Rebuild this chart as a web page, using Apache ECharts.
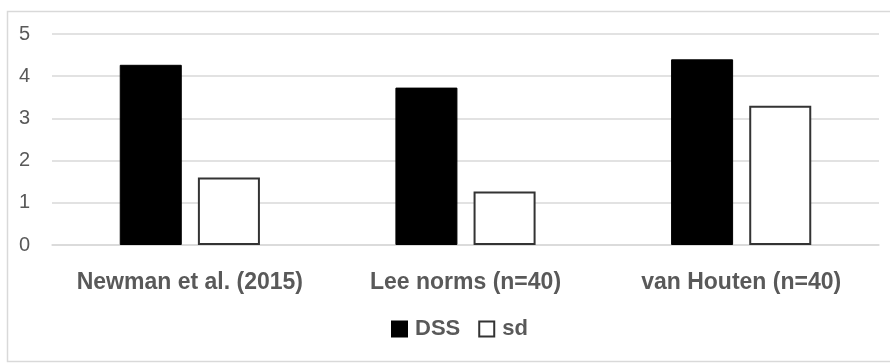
<!DOCTYPE html>
<html>
<head>
<meta charset="utf-8">
<script src="https://cdn.jsdelivr.net/npm/echarts@6/dist/echarts.min.js"></script>
<style>
  html, body { margin: 0; padding: 0; background: #fff; }
  #chart { width: 890px; height: 364px; }
</style>
</head>
<body>
<div id="chart"></div>
<script>
// Study sources along the x axis
const categories = ['Newman et al. (2015)', 'Lee norms (n=40)', 'van Houten (n=40)'];
// Mean DSS score per source
const dssValues = [4.27, 3.73, 4.40];
// Standard deviation per source
const sdValues = [1.60, 1.27, 3.30];
// Value axis ticks
const yTicks = [0, 1, 2, 3, 4, 5];

const textGray = '#595959';
const gridGray = '#d9d9d9';
const fontFamily = '"Liberation Sans", Arial, sans-serif';

const chart = echarts.init(document.getElementById('chart'), null, { renderer: 'canvas' });

chart.setOption({
  animation: false,
  backgroundColor: '#ffffff',
  graphic: [{
    type: 'rect',
    shape: { x: 7.5, y: 11.5, width: 900, height: 350 },
    style: { fill: null, stroke: gridGray, lineWidth: 1.5 },
    silent: true,
    z: -1
  }],
  grid: { left: 52, right: 11, top: 34, bottom: 119 },
  legend: {
    bottom: 19,
    left: 386,
    icon: 'rect',
    itemWidth: 15,
    itemHeight: 15,
    itemGap: 18,
    textStyle: {
      color: textGray, fontSize: 22, fontWeight: 'bold', fontFamily: fontFamily,
      padding: [0, 0, 0, 3]
    },
    data: ['DSS', 'sd']
  },
  xAxis: {
    type: 'category',
    data: categories,
    axisLine: { show: true, lineStyle: { color: gridGray, width: 1.5 } },
    axisTick: { show: false },
    axisLabel: {
      interval: 0,
      hideOverlap: false,
      color: textGray, fontSize: 23, fontWeight: 'bold', fontFamily: fontFamily, margin: 26
    }
  },
  yAxis: {
    type: 'value',
    min: yTicks[0],
    max: yTicks[yTicks.length - 1],
    interval: 1,
    axisLine: { show: false },
    axisTick: { show: false },
    splitLine: { lineStyle: { color: gridGray, width: 1.5 } },
    axisLabel: { color: textGray, fontSize: 20, fontFamily: fontFamily, margin: 22 }
  },
  series: [
    {
      name: 'DSS',
      type: 'bar',
      data: dssValues,
      barWidth: '22.5%',
      barGap: '26%',
      itemStyle: { color: '#000000', borderColor: '#000000', borderWidth: 1 }
    },
    {
      name: 'sd',
      type: 'bar',
      data: sdValues,
      barWidth: '22.5%',
      itemStyle: { color: '#ffffff', borderColor: '#333333', borderWidth: 2 }
    }
  ]
});
</script>
</body>
</html>
